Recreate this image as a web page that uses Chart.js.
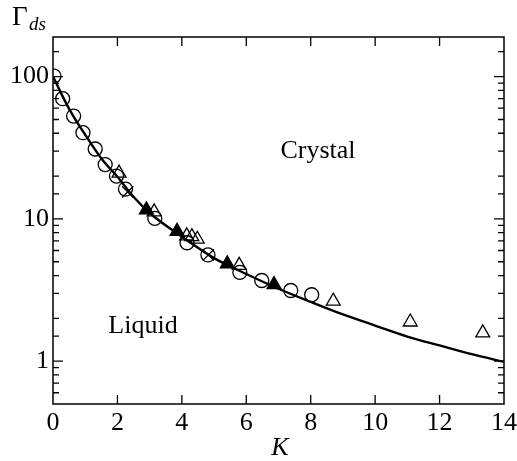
<!DOCTYPE html>
<html>
<head>
<meta charset="utf-8">
<script src="https://cdn.jsdelivr.net/npm/chart.js@4/dist/chart.umd.min.js"></script>
<style>
  html, body { margin: 0; padding: 0; background: #fff; }
  #wrap { width: 517px; height: 461px; }
</style>
</head>
<body>
<div id="wrap"><canvas id="phase"></canvas></div>
<script>
// solid fitted line
const lineK = [0, 0.5, 1, 1.5, 2, 2.5, 3, 4, 5, 6, 7, 8, 9, 10, 11, 12, 13, 14];
const lineG = [100, 59.4, 39, 26.6, 19.8, 14.3, 11.0, 7.5, 5.3, 4.1, 3.23, 2.61, 2.13, 1.78, 1.49, 1.29, 1.12, 0.99];

// open circles
const circK = [0.03, 0.30, 0.64, 0.93, 1.31, 1.62, 1.97, 2.25, 3.16, 4.16, 4.81, 5.80, 6.48, 7.38, 8.03];
const circG = [101, 70, 52.8, 40.4, 31.0, 24.1, 20.0, 16.2, 10.1, 6.8, 5.58, 4.21, 3.69, 3.14, 2.93];

// open triangles
const triK = [2.05, 3.14, 4.15, 4.31, 4.48, 5.78, 8.70, 11.09, 13.34];
const triG = [21, 11.2, 7.6, 7.5, 7.2, 4.72, 2.64, 1.885, 1.58];

// filled triangles
const ftriK = [2.90, 3.85, 5.41, 6.86];
const ftriG = [11.6, 8.19, 4.84, 3.46];

// crosses
const crossK = [2.32, 4.82];
const crossG = [15.5, 5.58];

const xTicks = [0, 2, 4, 6, 8, 10, 12, 14];
const yLabels = [1, 10, 100];

const pts = (xs, ys) => xs.map((x, i) => ({ x: x, y: ys[i] }));
const serif = '"Liberation Serif", "DejaVu Serif", serif';

// frame, inward ticks and the free text
const decor = {
  id: 'decor',
  afterDraw(chart) {
    const c = chart.ctx, a = chart.chartArea;
    const xs = chart.scales.x, ys = chart.scales.y;
    c.save();
    c.strokeStyle = '#000';
    c.lineWidth = 1.5;
    c.strokeRect(a.left, a.top, a.right - a.left, a.bottom - a.top);
    c.lineWidth = 1.3;
    c.beginPath();
    xs.ticks.forEach(t => {
      if (t.value <= xs.min || t.value >= xs.max) return;
      const px = xs.getPixelForValue(t.value);
      c.moveTo(px, a.bottom); c.lineTo(px, a.bottom - 9);
      c.moveTo(px, a.top); c.lineTo(px, a.top + 9);
    });
    ys.ticks.forEach(t => {
      if (t.value <= ys.min || t.value >= ys.max) return;
      const lg = Math.log10(t.value);
      const len = Math.abs(lg - Math.round(lg)) < 1e-6 ? 10 : 6;
      const py = ys.getPixelForValue(t.value);
      c.moveTo(a.left, py); c.lineTo(a.left + len, py);
      c.moveTo(a.right, py); c.lineTo(a.right - len, py);
    });
    c.stroke();

    c.fillStyle = '#000';
    c.textBaseline = 'alphabetic';
    c.font = '27px ' + serif;
    c.textAlign = 'left';
    c.fillText('\u0393', 12, 25);
    c.font = 'italic 19px ' + serif;
    c.fillText('ds', 29, 30);
    c.textAlign = 'center';
    c.font = 'italic 26px ' + serif;
    c.fillText('K', 280, 455);
    c.font = '26px ' + serif;
    c.fillText('Crystal', 318, 158);
    c.fillText('Liquid', 143, 333);
    c.restore();
  }
};

new Chart(document.getElementById('phase'), {
  type: 'scatter',
  data: {
    datasets: [
      {
        label: 'fit',
        type: 'line',
        data: pts(lineK, lineG),
        borderColor: '#000',
        borderWidth: 2.4,
        pointRadius: 0,
        fill: false,
        cubicInterpolationMode: 'monotone'
      },
      {
        label: 'circles',
        data: pts(circK, circG),
        pointStyle: 'circle',
        pointRadius: 7,
        borderColor: '#000',
        backgroundColor: 'rgba(0,0,0,0)',
        borderWidth: 1.3,
        clip: 0
      },
      {
        label: 'open triangles',
        data: pts(triK, triG),
        pointStyle: 'triangle',
        pointRadius: 8,
        borderColor: '#000',
        backgroundColor: 'rgba(0,0,0,0)',
        borderWidth: 1.3
      },
      {
        label: 'filled triangles',
        data: pts(ftriK, ftriG),
        pointStyle: 'triangle',
        pointRadius: 8,
        borderColor: '#000',
        backgroundColor: '#000',
        borderWidth: 1.3
      },
      {
        label: 'crosses',
        data: pts(crossK, crossG),
        pointStyle: 'crossRot',
        pointRadius: 8,
        borderColor: '#000',
        borderWidth: 1.3
      }
    ]
  },
  options: {
    responsive: true,
    maintainAspectRatio: false,
    animation: false,
    layout: { padding: { left: 0, top: 37, right: 13, bottom: 0 } },
    plugins: {
      legend: { display: false },
      tooltip: { enabled: false }
    },
    scales: {
      x: {
        type: 'linear',
        min: 0,
        max: 14,
        afterBuildTicks: s => { s.ticks = xTicks.map(v => ({ value: v })); },
        afterFit: s => { s.height = 57; s.paddingLeft = 0; s.paddingRight = 0; },
        grid: { display: false, drawTicks: false },
        border: { display: false },
        ticks: {
          color: '#000',
          font: { family: serif, size: 26 },
          padding: 4,
          maxRotation: 0,
          autoSkip: false
        }
      },
      y: {
        type: 'logarithmic',
        min: 0.5,
        max: 190,
        afterFit: s => { s.width = 53; s.paddingTop = 0; s.paddingBottom = 0; },
        grid: { display: false, drawTicks: false },
        border: { display: false },
        ticks: {
          color: '#000',
          font: { family: serif, size: 26 },
          padding: 4,
          autoSkip: false,
          callback: v => yLabels.some(l => Math.abs(v - l) < 1e-6 * l) ? String(Math.round(v)) : ''
        }
      }
    }
  },
  plugins: [decor]
});
</script>
</body>
</html>
